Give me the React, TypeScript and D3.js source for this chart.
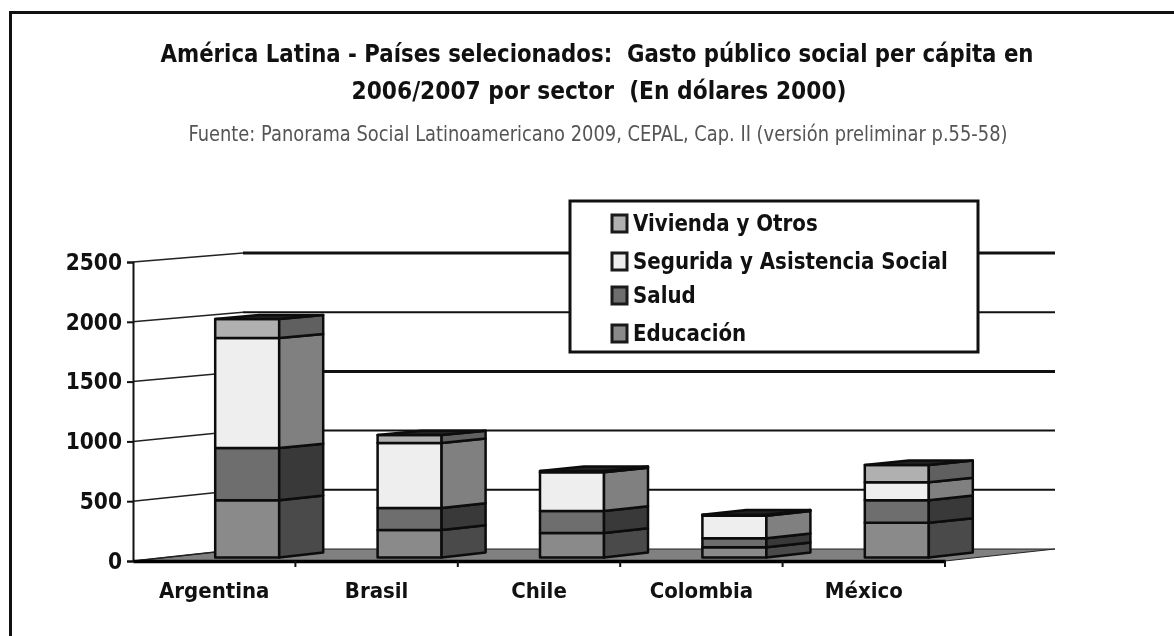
import React, { useEffect, useRef } from 'react';
import * as d3 from 'd3';

const countries = ['Argentina', 'Brasil', 'Chile', 'Colombia', 'México'];
const sectors = ['Educación', 'Salud', 'Seguridad', 'Vivienda'];
const educacion = [480, 230, 205, 85, 290];
const salud = [437, 185, 185, 75, 190];
const seguridad = [923, 545, 325, 190, 150];
const vivienda = [160, 67, 10, 8, 145];
const yTicks = [0, 500, 1000, 1500, 2000, 2500];
const legendLabels = ['Vivienda y Otros', 'Segurida y Asistencia Social', 'Salud', 'Educación'];
const legendKeys = ['Vivienda', 'Seguridad', 'Salud', 'Educación'];

const frontColors = { 'Educación': '#8a8a8a', Salud: '#6e6e6e', Seguridad: '#eeeeee', Vivienda: '#b0b0b0' };
const sideColors = { 'Educación': '#4a4a4a', Salud: '#393939', Seguridad: '#808080', Vivienda: '#606060' };

const FONT = '"DejaVu Sans Condensed", "DejaVu Sans", sans-serif';
const legendRowY = [22, 60, 94, 132];

const App = () => {
    const svgRef = useRef<SVGSVGElement>(null);

    useEffect(() => {
        const svg = d3.select(svgRef.current);
        svg.selectAll('*').remove();

        // front edge of the plot and the back wall have slightly different heights
        const yFront = d3.scaleLinear().domain([0, 2500]).range([561, 262]);
        const yBack = d3.scaleLinear().domain([0, 2500]).range([549, 253]);
        const x = d3.scaleBand().domain(countries).range([133, 945]);
        const depthX = 110;
        const barW = 64;

        const px = (c: string, off: number, d: number) => x(c)! + off + d * depthX;
        const py = (v: number, d: number) => yFront(v) * (1 - d) + yBack(v) * d;

        // frame
        svg.append('path')
            .attr('d', 'M10.5,636 L10.5,12.5 L1174,12.5')
            .attr('fill', 'none')
            .attr('stroke', '#111')
            .attr('stroke-width', 3);

        // titles, the source picture has tall narrow glyphs so they are squeezed with textLength
        const title = svg.append('g').attr('text-anchor', 'middle').attr('font-family', FONT);
        title.append('text').attr('x', 597).attr('y', 62).attr('font-size', 25).attr('font-weight', 700)
            .attr('fill', '#111')
            .attr('textLength', 873).attr('lengthAdjust', 'spacingAndGlyphs')
            .attr('xml:space', 'preserve')
            .text('América Latina - Países selecionados:  Gasto público social per cápita en');
        title.append('text').attr('x', 599).attr('y', 99).attr('font-size', 25).attr('font-weight', 700)
            .attr('fill', '#111')
            .attr('textLength', 495).attr('lengthAdjust', 'spacingAndGlyphs')
            .attr('xml:space', 'preserve')
            .text('2006/2007 por sector  (En dólares 2000)');
        title.append('text').attr('x', 598).attr('y', 141).attr('font-size', 20.5)
            .attr('fill', '#555')
            .attr('textLength', 819).attr('lengthAdjust', 'spacingAndGlyphs')
            .text('Fuente: Panorama Social Latinoamericano 2009, CEPAL, Cap. II (versión preliminar p.55-58)');

        // floor
        const floor = d3.line();
        svg.append('path')
            .attr('d', floor([
                [x.range()[0], yFront(0)],
                [x.range()[1], yFront(0)],
                [x.range()[1] + depthX, yBack(0)],
                [x.range()[0] + depthX, yBack(0)],
            ]) + 'Z')
            .attr('fill', '#808080')
            .attr('stroke', '#222')
            .attr('stroke-width', 1);

        // gridlines
        const grid = svg.append('g');
        yTicks.forEach(t => {
            const w = t === 1500 || t === 2500 ? 3 : 2;
            if (t > 0) {
                grid.append('line')
                    .attr('x1', x.range()[0] + depthX).attr('x2', x.range()[1] + depthX)
                    .attr('y1', yBack(t)).attr('y2', yBack(t))
                    .attr('stroke', '#111').attr('stroke-width', w);
            }
            grid.append('line')
                .attr('x1', x.range()[0]).attr('x2', x.range()[0] + depthX)
                .attr('y1', yFront(t)).attr('y2', yBack(t))
                .attr('stroke', '#222').attr('stroke-width', 1.5);
        });

        // stacked 3d bars
        const rows = countries.map((c, i) => ({
            country: c,
            'Educación': educacion[i],
            Salud: salud[i],
            Seguridad: seguridad[i],
            Vivienda: vivienda[i],
        }));
        const stacked = d3.stack().keys(sectors)(rows as any);
        const barOff = (x.bandwidth() - barW) / 2;
        const d0 = 0.3;
        const d1 = 0.7;
        const bars = svg.append('g').attr('stroke', '#0c0c0c').attr('stroke-width', 2.5).attr('stroke-linejoin', 'round');

        stacked.forEach(layer => {
            const key = layer.key;
            layer.forEach((seg, i) => {
                const c = countries[i];
                const left = px(c, barOff, d0);
                const right = left + barW;
                const sideR = px(c, barOff + barW, d1);
                bars.append('rect')
                    .attr('x', left).attr('width', barW)
                    .attr('y', py(seg[1], d0)).attr('height', py(seg[0], d0) - py(seg[1], d0))
                    .attr('fill', frontColors[key]);
                bars.append('path')
                    .attr('d', floor([
                        [right, py(seg[0], d0)],
                        [sideR, py(seg[0], d1)],
                        [sideR, py(seg[1], d1)],
                        [right, py(seg[1], d0)],
                    ]) + 'Z')
                    .attr('fill', sideColors[key]);
            });
        });

        // top faces
        const topLayer = stacked[stacked.length - 1];
        topLayer.forEach((seg, i) => {
            const c = countries[i];
            const left = px(c, barOff, d0);
            bars.append('path')
                .attr('d', floor([
                    [left, py(seg[1], d0)],
                    [left + barW, py(seg[1], d0)],
                    [px(c, barOff + barW, d1), py(seg[1], d1)],
                    [px(c, barOff, d1), py(seg[1], d1)],
                ]) + 'Z')
                .attr('fill', '#222');
        });

        // axes
        const axisY = svg.append('g')
            .attr('transform', `translate(${x.range()[0]},0)`)
            .call(d3.axisLeft(yFront).tickValues(yTicks).tickSize(6).tickPadding(5).tickFormat(d3.format('d')));
        axisY.selectAll('path,line').attr('stroke', '#111').attr('stroke-width', 2);
        axisY.selectAll('text')
            .attr('font-family', FONT).attr('font-size', 22.5).attr('font-weight', 700).attr('fill', '#111');

        const axisX = svg.append('g')
            .attr('transform', `translate(0,${yFront(0)})`)
            .call(d3.axisBottom(x).tickSize(0).tickPadding(21));
        axisX.select('path').attr('stroke', '#000').attr('stroke-width', 3.5);
        axisX.selectAll('text')
            .attr('font-family', FONT).attr('font-size', 22).attr('font-weight', 700).attr('fill', '#111');
        countries.forEach(c => {
            axisX.append('line')
                .attr('x1', x(c)! + x.bandwidth()).attr('x2', x(c)! + x.bandwidth())
                .attr('y1', 0).attr('y2', 6)
                .attr('stroke', '#111').attr('stroke-width', 2);
        });

        // legend
        const legend = svg.append('g').attr('transform', 'translate(570,201)');
        legend.append('rect')
            .attr('width', 408).attr('height', 151)
            .attr('fill', '#fff').attr('stroke', '#111').attr('stroke-width', 3);
        legendLabels.forEach((label, i) => {
            const yy = legendRowY[i];
            legend.append('rect')
                .attr('x', 42).attr('y', yy - 8).attr('width', 15).attr('height', 17)
                .attr('fill', frontColors[legendKeys[i]])
                .attr('stroke', '#1a1a1a').attr('stroke-width', 3);
            legend.append('text')
                .attr('transform', `translate(63,${yy + 8}) scale(0.97,1)`)
                .attr('font-family', FONT).attr('font-size', 22.7).attr('font-weight', 700)
                .attr('fill', '#111')
                .text(label);
        });
    }, []);

    return (
        <svg
            ref={svgRef}
            width={1174}
            height={636}
            style={{ position: 'absolute', left: 0, top: 0, background: '#fff', filter: 'blur(0.7px)' }}
        />
    );
};

export default App;
